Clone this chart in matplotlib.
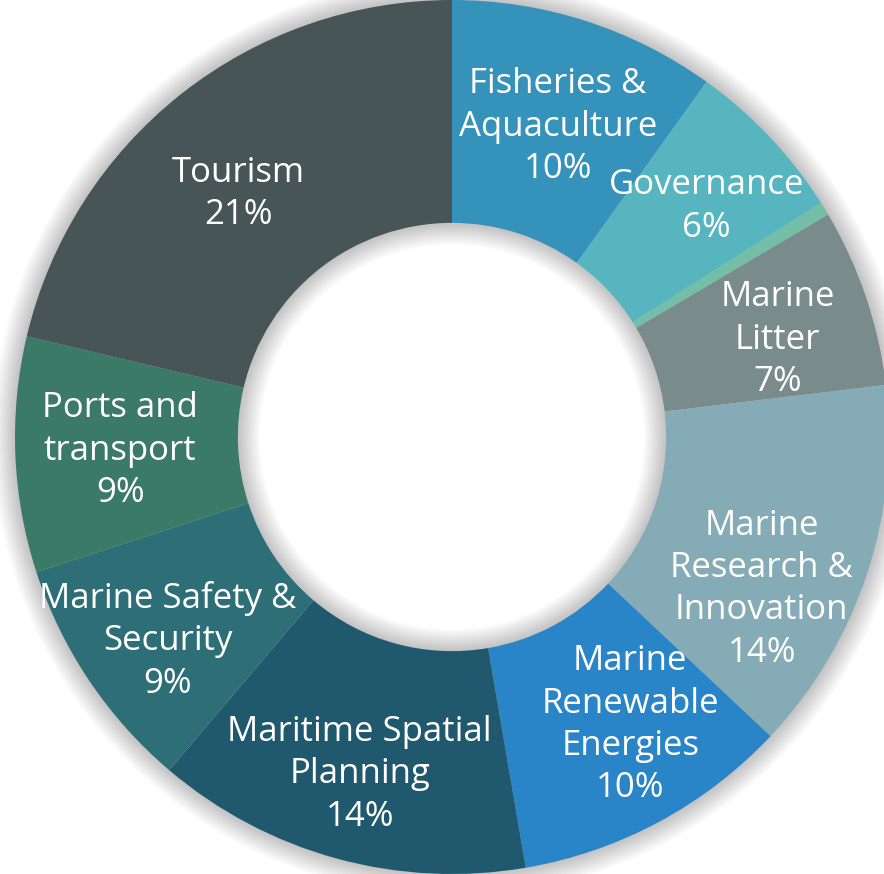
import matplotlib
matplotlib.use("Agg")
import matplotlib.pyplot as plt
import numpy as np

categories = ["Fisheries &\nAquaculture", "Governance", "", "Marine\nLitter",
              "Marine\nResearch &\nInnovation", "Marine\nRenewable\nEnergies",
              "Maritime Spatial\nPlanning", "Marine Safety &\nSecurity",
              "Ports and\ntransport", "Tourism"]
values = [9.9, 6.1, 0.5, 6.6, 13.9, 10.3, 13.9, 8.8, 8.7, 21.3]
colors = ["#3592BB", "#57B5BF", "#74BDA6", "#7A8B8B", "#85ABB6", "#2A84C8",
          "#20586E", "#2E6F77", "#3A7A66", "#485556"]
# label placement nudges (degrees along the ring, radius)
label_angle_nudge = [-1, -1.2, 0, -2.1, -8, 3.5, 0, 1.8, 0, 3]
label_radius = [0.75, 0.785, 0.78, 0.778, 0.79, 0.775, 0.80, 0.80, 0.76, 0.74]

W, H = 884, 874
R_PX = 437.0
CX, CY = 452.0, 437.0

fig = plt.figure(figsize=(W / 100, H / 100), dpi=100)
ax = fig.add_axes([0, 0, 1, 1])

# soft glow shadow
for d in np.linspace(0.004, 0.05, 12):
    ax.pie([1], radius=1.0 + d, colors=["#000000"],
           wedgeprops=dict(width=0.51 + 2 * d, alpha=0.018, linewidth=0))

wedges, _ = ax.pie(values, startangle=90, counterclock=False, colors=colors,
                   radius=1.0, wedgeprops=dict(width=0.51, linewidth=0))

total = sum(values)
for w, lab, v, dn, r in zip(wedges, categories, values, label_angle_nudge, label_radius):
    if not lab:
        continue
    ang = np.deg2rad((w.theta1 + w.theta2) / 2 + dn)
    x, y = r * np.cos(ang), r * np.sin(ang)
    ax.text(x, y, f"{lab}\n{round(v / total * 100):.0f}%", ha="center", va="center",
            color="white", fontsize=25, family="Open Sans", linespacing=1.32)

ax.set_xlim(-CX / R_PX, (W - CX) / R_PX)
ax.set_ylim(-CY / R_PX, (H - CY) / R_PX)
ax.set_aspect("equal")
ax.axis("off")

fig.savefig("out.png", dpi=100)
